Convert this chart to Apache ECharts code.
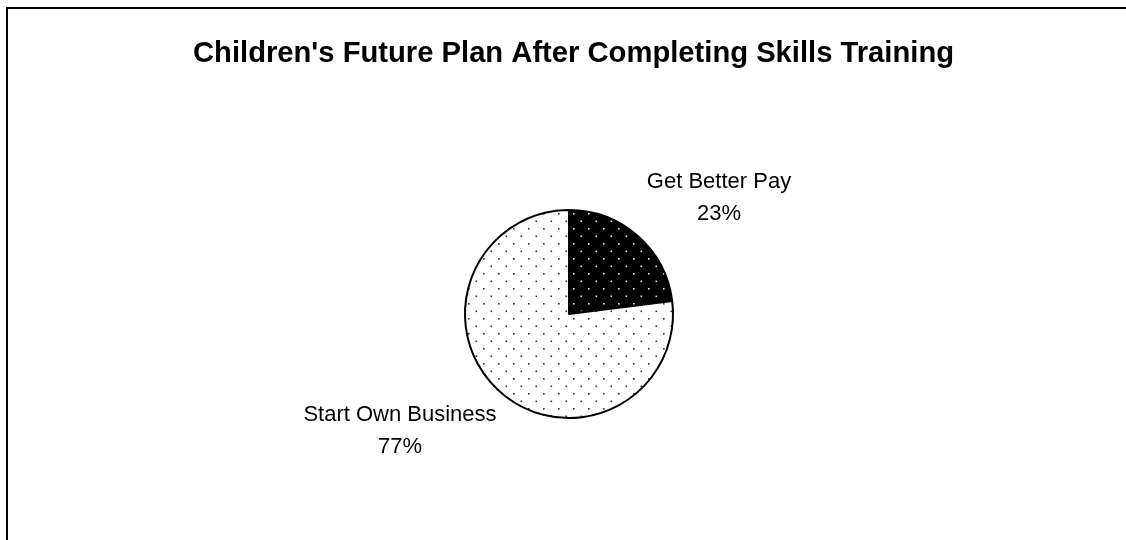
<!DOCTYPE html>
<html>
<head>
<meta charset="utf-8">
<script src="https://cdn.jsdelivr.net/npm/echarts@6/dist/echarts.min.js"></script>
<style>
  html, body { margin: 0; padding: 0; background: #fff; overflow: hidden; }
  #chart { width: 1126px; height: 540px; }
</style>
</head>
<body>
<div id="chart"></div>
<script>
// Survey answers: what children plan to do after skills training
const titleText = "Children's Future Plan After Completing Skills Training";
const planNames = ['Get Better Pay', 'Start Own Business'];
const planShares = [23, 77];

// Dotted fill tile: a staggered grid of small dots on a solid ground
function dotTile(ground, dot) {
  const c = document.createElement('canvas');
  c.width = 15;
  c.height = 15;
  const ctx = c.getContext('2d');
  ctx.fillStyle = ground;
  ctx.fillRect(0, 0, 15, 15);
  ctx.fillStyle = dot;
  ctx.fillRect(3, 3, 1.6, 1.6);
  ctx.fillRect(10.5, 10.5, 1.6, 1.6);
  return c;
}

const fills = [
  { image: dotTile('#000000', '#e8e8e8'), repeat: 'repeat' },
  { image: dotTile('#ffffff', '#333333'), repeat: 'repeat' }
];

// Where each slice's caption sits
const labelSpots = [
  { x: 719, y: 198 },
  { x: 400, y: 431 }
];

const chart = echarts.init(document.getElementById('chart'), null, { renderer: 'canvas' });

chart.setOption({
  animation: false,
  backgroundColor: '#ffffff',
  title: {
    text: titleText,
    left: 188,
    top: 34,
    textStyle: {
      fontFamily: 'Liberation Sans, Arial, sans-serif',
      fontSize: 29.2,
      fontWeight: 'bold',
      color: '#000000'
    }
  },
  graphic: [{
    type: 'rect',
    shape: { x: 7, y: 8, width: 1300, height: 700 },
    style: { fill: 'none', stroke: '#000000', lineWidth: 2 },
    silent: true
  }],
  series: [{
    type: 'pie',
    center: [569, 314],
    radius: [0, 104],
    startAngle: 90,
    clockwise: true,
    silent: true,
    itemStyle: { borderColor: '#000000', borderWidth: 2 },
    labelLine: { show: false },
    label: {
      show: true,
      position: 'outside',
      formatter: p => p.name + '\n' + p.value + '%',
      fontFamily: 'Liberation Sans, Arial, sans-serif',
      fontSize: 22,
      lineHeight: 32,
      color: '#000000',
      align: 'center'
    },
    labelLayout: p => ({
      x: labelSpots[p.dataIndex].x,
      y: labelSpots[p.dataIndex].y,
      align: 'center',
      verticalAlign: 'middle'
    }),
    data: planNames.map((name, i) => ({
      name: name,
      value: planShares[i],
      itemStyle: { color: fills[i] }
    }))
  }]
});
</script>
</body>
</html>
